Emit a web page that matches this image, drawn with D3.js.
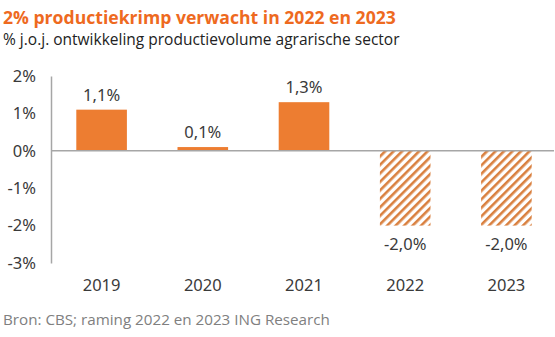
<!DOCTYPE html>
<html lang="nl">
<head>
<meta charset="UTF-8">
<title>Productiekrimp</title>
<script src="https://cdn.jsdelivr.net/npm/d3@7/dist/d3.min.js"></script>
<style>
    body { margin: 0; background: #fff; }
    svg { display: block; }
    .title { font-family: "Open Sans", sans-serif; font-weight: 700; font-size: 17.6px; fill: #ee6a1f; }
    .subtitle { font-family: "Open Sans", sans-serif; font-size: 15.5px; fill: #222; }
    .source { font-family: "Open Sans", sans-serif; font-size: 15.2px; fill: #808080; }
    .tick text, .lbl { font-family: "Noto Sans", sans-serif; font-size: 16.5px; fill: #3a3a3a; }
</style>
</head>
<body>
<svg id="chart" width="555" height="337"></svg>
<script>
    const years = ['2019', '2020', '2021', '2022', '2023'];
    const values = [1.1, 0.1, 1.3, -2.0, -2.0];
    const forecast = [false, false, false, true, true];
    const yTicks = [2, 1, 0, -1, -2, -3];

    const svg = d3.select('#chart');
    const fmt = v => d3.format('.1f')(v).replace('.', ',').replace('−', '-') + '%';

    const x = d3.scaleBand().domain(years).range([51, 557]).paddingInner(0.5).paddingOuter(0.25);
    const y = d3.scaleLinear().domain([-3, 2]).range([263, 76]);

    const defs = svg.append('defs');
    const pat = defs.append('pattern')
        .attr('id', 'hatch')
        .attr('patternUnits', 'userSpaceOnUse')
        .attr('width', 6).attr('height', 6)
        .attr('patternTransform', 'rotate(45)');
    pat.append('rect').attr('width', 6).attr('height', 6).attr('fill', '#fff');
    pat.append('rect').attr('width', 2.6).attr('height', 6).attr('fill', '#d9803f');

    svg.append('text').attr('class', 'title').attr('x', 3).attr('y', 24)
        .text('2% productiekrimp verwacht in 2022 en 2023');
    svg.append('text').attr('class', 'subtitle').attr('x', 3).attr('y', 45)
        .text('% j.o.j. ontwikkeling productievolume agrarische sector');

    // y axis
    const yAxis = svg.append('g')
        .attr('transform', 'translate(51,0)')
        .call(d3.axisLeft(y).tickValues(yTicks).tickSize(0).tickPadding(15)
            .tickFormat(d => d3.format('d')(d).replace('−', '-') + '%'));
    yAxis.select('.domain').attr('stroke', '#a6a6a6').attr('stroke-width', 1.5);
    yAxis.selectAll('.tick text').attr('text-anchor', 'end');

    // bars
    svg.append('g').selectAll('rect')
        .data(years)
        .join('rect')
        .attr('x', d => x(d))
        .attr('width', x.bandwidth())
        .attr('y', (d, i) => y(Math.max(0, values[i])))
        .attr('height', (d, i) => Math.abs(y(values[i]) - y(0)))
        .attr('fill', (d, i) => forecast[i] ? 'url(#hatch)' : '#ed7d31');

    // zero line
    svg.append('line')
        .attr('x1', 51).attr('x2', 554)
        .attr('y1', y(0)).attr('y2', y(0))
        .attr('stroke', '#a6a6a6').attr('stroke-width', 1.5);

    // value labels
    svg.append('g').selectAll('text')
        .data(years)
        .join('text')
        .attr('class', 'lbl')
        .attr('text-anchor', 'middle')
        .attr('x', d => x(d) + x.bandwidth() / 2)
        .attr('y', (d, i) => values[i] >= 0 ? y(values[i]) - 9 : y(values[i]) + 24)
        .text((d, i) => fmt(values[i]));

    // x labels
    svg.append('g').selectAll('text')
        .data(years)
        .join('text')
        .attr('class', 'lbl')
        .attr('text-anchor', 'middle')
        .attr('x', d => x(d) + x.bandwidth() / 2)
        .attr('y', 291)
        .text(d => d);

    svg.append('text').attr('class', 'source').attr('x', 3).attr('y', 325)
        .text('Bron: CBS; raming 2022 en 2023 ING Research');
</script>
</body>
</html>
